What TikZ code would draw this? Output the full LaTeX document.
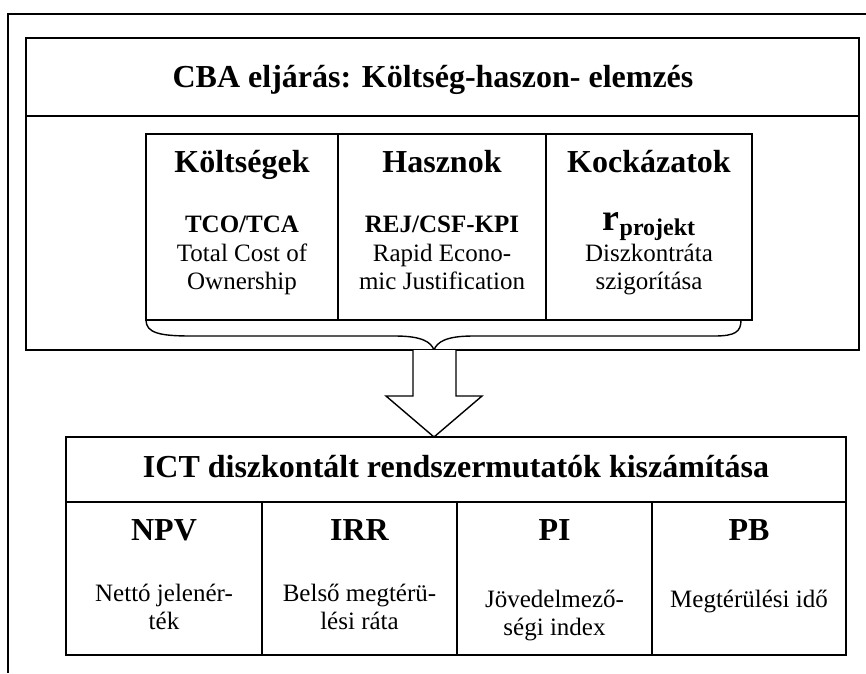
\documentclass[tikz,border=0pt]{standalone}
\usepackage{fontspec}
\setmainfont{Liberation Serif}
\begin{document}
\tikzset{
  frameline/.style={line width=1.3pt},
  boxline/.style={line width=1.5pt},
  headtxt/.style={anchor=base, inner sep=0pt, font=\fontsize{32}{38}\selectfont\bfseries},
  subtxt/.style={anchor=base, inner sep=0pt, font=\fontsize{25}{29}\selectfont\bfseries},
  desctxt/.style={anchor=base, inner sep=0pt, font=\fontsize{25}{29}\selectfont},
}
\begin{tikzpicture}[x=1pt,y=-1pt]
\useasboundingbox (0,0) rectangle (866,673);
% outer frame
\draw[frameline] (8,673) -- (8,14) -- (866,14);
% upper box
\draw[boxline] (26,38) rectangle (859,350);
\draw[boxline] (26,116) -- (859,116);
\node[headtxt] (cba) at (433,87) {CBA eljárás: Költség-haszon- elemzés};
% inner table
\draw[boxline] (146,134) rectangle (752,320);
\draw[boxline] (338,134) -- (338,320);
\draw[boxline] (546,134) -- (546,320);
\node[headtxt] (kolt) at (242,172) {Költségek};
\node[subtxt] (tco) at (242,232) {TCO/TCA};
\node[desctxt] (tco1) at (242,261) {Total Cost of};
\node[desctxt] (tco2) at (242,289) {Ownership};
\node[headtxt] (hasz) at (442,172) {Hasznok};
\node[subtxt] (rej) at (442,232) {REJ/CSF-KPI};
\node[desctxt] (rej1) at (442,261) {Rapid Econo-};
\node[desctxt] (rej2) at (442,289) {mic Justification};
\node[headtxt] (kock) at (649,172) {Kockázatok};
\node[anchor=base, inner sep=0pt, font=\bfseries] (rproj) at (649,230)
  {{\fontsize{38}{40}\selectfont r}\raisebox{-5pt}{\fontsize{24}{28}\selectfont projekt}};
\node[desctxt] (kock1) at (649,261) {Diszkontráta};
\node[desctxt] (kock2) at (649,289) {szigorítása};
% brace
\coordinate (brL) at (146,320);
\coordinate (brR) at (741,320);
\coordinate (brT) at (434,350);
\draw[line width=1.4pt] (brL) .. controls (146,333) and (160,336) .. (191,336)
  -- (395,336) .. controls (422,336) and (431,342) .. (brT)
  .. controls (437,342) and (446,336) .. (473,336)
  -- (714,336) .. controls (735,336) and (741,332) .. (brR);
% block arrow
\coordinate (arT) at (434,350);
\coordinate (arB) at (434,437);
\draw[line width=1.4pt, fill=white] (413,350) -- (413,396) -- (386,396) -- (arB)
  -- (482,396) -- (456,396) -- (456,350);
% lower box
\draw[boxline] (66,437) rectangle (846,655);
\draw[boxline] (66,502) -- (846,502);
\draw[boxline] (262,502) -- (262,655);
\draw[boxline] (457,502) -- (457,655);
\draw[boxline] (652,502) -- (652,655);
\node[headtxt] (ict) at (456,477) {ICT diszkontált rendszermutatók kiszámítása};
\node[headtxt] (npv) at (164,540) {NPV};
\node[desctxt] (npv1) at (164,601) {Nettó jelenér-};
\node[desctxt] (npv2) at (164,629) {ték};
\node[headtxt] (irr) at (359.5,540) {IRR};
\node[desctxt] (irr1) at (359.5,601) {Belső megtérü-};
\node[desctxt] (irr2) at (359.5,629) {lési ráta};
\node[headtxt] (pi) at (554.5,540) {PI};
\node[desctxt] (pi1) at (554.5,607) {Jövedelmező-};
\node[desctxt] (pi2) at (554.5,635) {ségi index};
\node[headtxt] (pb) at (749,540) {PB};
\node[desctxt] (pb1) at (749,607) {Megtérülési idő};
\end{tikzpicture}
\end{document}
